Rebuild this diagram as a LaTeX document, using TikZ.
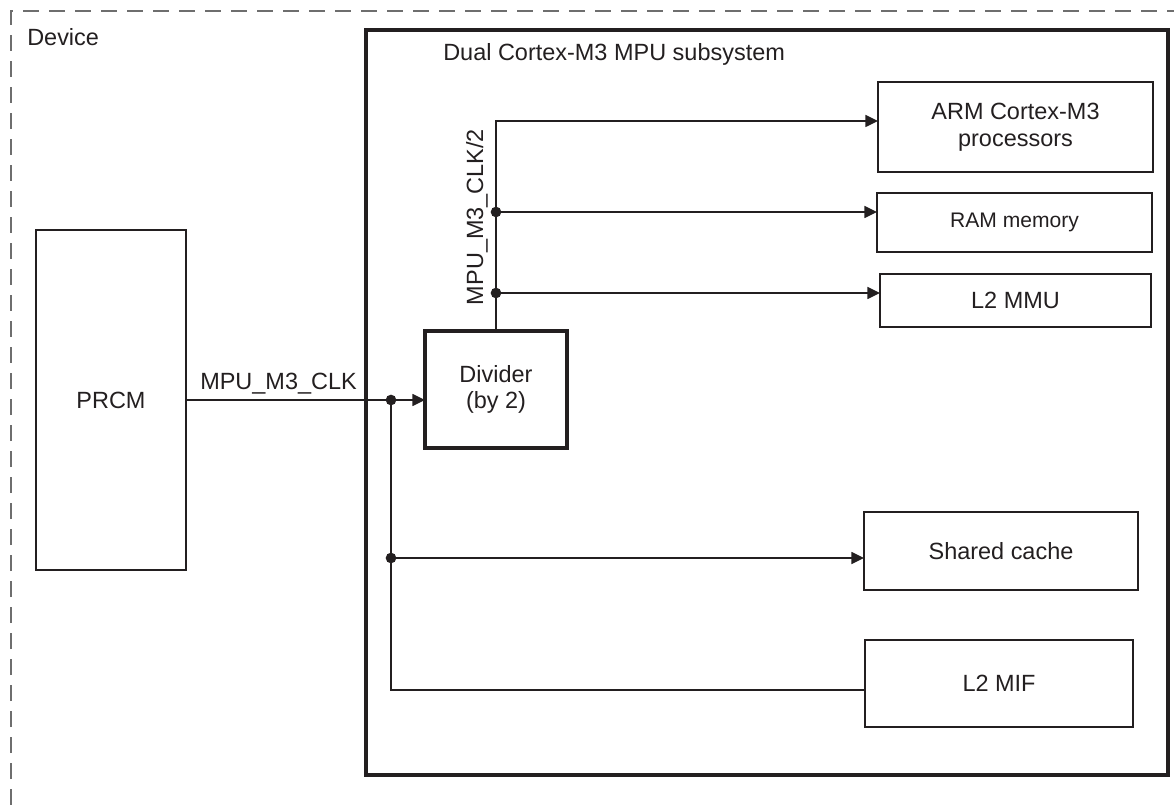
\documentclass[tikz,border=0pt]{standalone}
\usepackage{fontspec}
\setmainfont{Liberation Sans}
\usetikzlibrary{arrows.meta}
\definecolor{ink}{RGB}{35,31,32}
\definecolor{framegray}{RGB}{110,110,110}

\begin{document}
\begin{tikzpicture}[x=0.75pt,y=-0.75pt,
  font=\fontsize{17.6}{20}\selectfont,
  every node/.style={text=ink},
  sz/.style 2 args={minimum width=#1*0.75pt, minimum height=#2*0.75pt},
  blk/.style={draw=ink, line width=1.5pt, inner sep=0pt, outer sep=0pt, align=center},
  thickblk/.style={blk, line width=2.6pt},
  tag/.style={inner sep=0pt},
  wire/.style={draw=ink, line width=1.1pt},
  arr/.style={wire, -{Triangle[length=9.5pt,width=9pt]}},
  dot/.style={circle, fill=ink, inner sep=0pt, minimum size=8pt},
]
\useasboundingbox (0,0) rectangle (1174,805);

% device boundary (open to the right and below)
\coordinate (devbl) at (11,805);
\coordinate (devtl) at (11,11);
\coordinate (devtr) at (1174,11);
\draw[framegray, line width=0.8pt, dash pattern=on 12pt off 7.5pt] (devbl) -- (devtl) -- (devtr);
\node[tag, anchor=base west] (device) at (27,46) {Device};

% PRCM
\node[blk, sz={150}{340}] (prcm) at (111,400) {PRCM};

% MPU subsystem
\node[thickblk, sz={802}{745}] (mpu) at (767,402.5) {};
\node[tag, anchor=base west] (mputitle) at (443,61) {Dual Cortex-M3 MPU subsystem};

% blocks inside the subsystem
\node[thickblk, sz={142}{117}] (div) at (496,389.5) {Divider\\(by 2)};
\node[blk, sz={275}{90}] (arm) at (1015.5,127) {ARM Cortex-M3\\processors};
\node[blk, sz={275}{59}, font=\fontsize{15.8}{18}\selectfont] (ram) at (1014.5,222.5) {RAM memory};
\node[blk, sz={271}{53}] (mmu) at (1015.5,300.5) {L2 MMU};
\node[blk, sz={274}{78}] (cache) at (1001,551) {Shared cache};
\node[blk, sz={268}{87}] (mif) at (999,683.5) {L2 MIF};

% full-rate clock from PRCM
\coordinate (j0) at (391,400);
\coordinate (jc) at (391,558);
\coordinate (jm) at (391,690);
\draw[arr] (prcm.east) -- (div.west |- prcm.east);
\node[tag, anchor=base west] (clk) at (200,389) {MPU\_M3\_CLK};
\draw[wire] (j0) -- (jm) -- (jm -| mif.west);
\draw[arr] (jc) -- (jc -| cache.west);
\node[dot] (dj0) at (j0) {};
\node[dot] (djc) at (jc) {};

% half-rate clock from the divider
\coordinate (ta) at (496,121);
\coordinate (tr) at (496,212);
\coordinate (tm) at (496,293);
\draw[arr] (div.north) -- (ta) -- (ta -| arm.west);
\draw[arr] (tr) -- (tr -| ram.west);
\draw[arr] (tm) -- (tm -| mmu.west);
\node[dot] (dtr) at (tr) {};
\node[dot] (dtm) at (tm) {};
\node[tag, rotate=90, anchor=base] (clk2) at (483,217) {MPU\_M3\_CLK/2};
\end{tikzpicture}
\end{document}
